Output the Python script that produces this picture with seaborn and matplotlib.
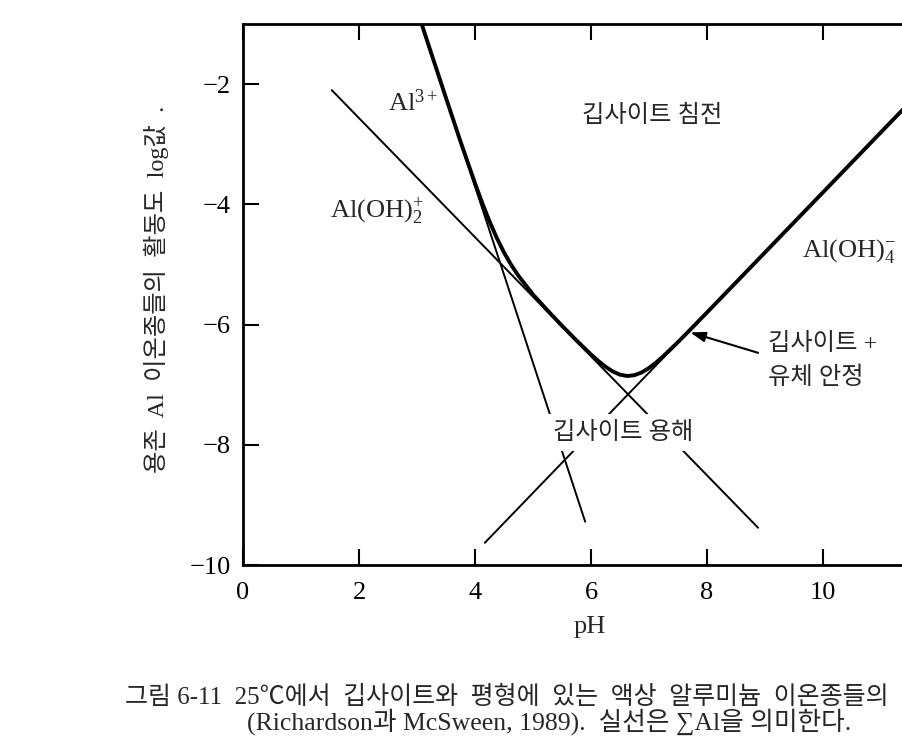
import matplotlib
matplotlib.use("Agg")
import matplotlib.pyplot as plt
import seaborn as sns
import pandas as pd

# ---- data ----
al3_ph = [3.08, 5.90]
al3_log = [-1.00, -9.28]

aloh2_ph = [1.53, 8.88]
aloh2_log = [-2.10, -9.38]

aloh4_ph = [4.17, 11.40]
aloh4_log = [-9.63, -2.40]

total_ph = [3.08, 3.25, 3.5, 3.75, 4.0, 4.125, 4.25, 4.375, 4.5, 4.625, 4.75, 5.0,
            5.25, 5.5, 5.75, 6.0, 6.125, 6.25, 6.375, 6.5, 6.625, 6.75, 6.875,
            7.0, 7.125, 7.25, 7.5, 7.75, 8.0, 9.0, 10.0, 11.4]
total_log = [-1.00, -1.50, -2.23, -2.955, -3.65, -3.978, -4.283, -4.558, -4.80,
             -5.01, -5.19, -5.50, -5.765, -6.02, -6.264, -6.498, -6.605, -6.701,
             -6.78, -6.834, -6.856, -6.842, -6.796, -6.723, -6.63, -6.524, -6.292,
             -6.047, -5.799, -4.80, -3.80, -2.40]

x_ticks = [0, 2, 4, 6, 8, 10]
y_ticks = [-2, -4, -6, -8, -10]

sns.set_style("ticks")
plt.rcParams['font.family'] = ['Liberation Serif', 'Noto Sans CJK KR', 'DejaVu Sans']
plt.rcParams['mathtext.fontset'] = 'custom'
plt.rcParams['mathtext.rm'] = 'Liberation Serif'
plt.rcParams['mathtext.it'] = 'Liberation Serif'
plt.rcParams['mathtext.bf'] = 'Liberation Serif'
plt.rcParams['axes.unicode_minus'] = True

fig = plt.figure(figsize=(9.02, 7.53), dpi=100)
L, B = 243 / 902, (753 - 565) / 753
ax = fig.add_axes([L, B, 1.0 - L, (565 - 24) / 753])

thin = dict(color='black', linewidth=1.4, zorder=2)
sns.lineplot(x=al3_ph, y=al3_log, ax=ax, **thin)
sns.lineplot(x=aloh2_ph, y=aloh2_log, ax=ax, **thin)
sns.lineplot(x=aloh4_ph, y=aloh4_log, ax=ax, **thin)
df_tot = pd.DataFrame({'pH': total_ph, 'logAl': total_log})
sns.lineplot(data=df_tot, x='pH', y='logAl', ax=ax, color='black', linewidth=2.8,
             zorder=3, sort=False)

ax.set_xlim(0, 659 / 58)
ax.set_ylim(-10, -1)
ax.set_xticks(x_ticks)
ax.set_yticks(y_ticks)
ax.set_xticklabels([str(v) for v in x_ticks])
ax.set_yticklabels([f"\u2212{abs(v)}" for v in y_ticks])
ax.tick_params(axis='both', direction='in', length=11.5, width=1.5, labelsize=19,
               colors='black')
ax.tick_params(axis='x', top=True, pad=12)
ax.tick_params(axis='y', pad=9)
for s in ['left', 'bottom', 'top']:
    ax.spines[s].set_linewidth(2.0)
    ax.spines[s].set_color('black')
ax.spines['right'].set_visible(False)
ax.set_xlabel('')
ax.set_ylabel('')

# labels
ax.text(2.50, -2.45, r'Al$^{3+}$', fontsize=19, va='baseline', ha='left')
ax.text(1.50, -4.22, r'Al(OH)$_{2}^{+}$', fontsize=19, va='baseline', ha='left')
ax.text(9.64, -4.87, r'Al(OH)$_{4}^{-}$', fontsize=19, va='baseline', ha='left')
ax.text(5.84, -2.53, '깁사이트 침전', fontsize=17.5, va='center', ha='left')
ax.text(9.05, -6.33, '깁사이트 +', fontsize=17.5, va='center', ha='left')
ax.text(9.05, -6.88, '유체 안정', fontsize=17.5, va='center', ha='left')
ax.text(5.34, -7.80, '깁사이트 용해', fontsize=17.5, va='center', ha='left', zorder=4,
        bbox=dict(boxstyle='square,pad=0.3', facecolor='white', edgecolor='none'))
ax.annotate('', xy=(7.71, -6.13), xytext=(8.88, -6.47),
            arrowprops=dict(arrowstyle='-|>,head_length=0.9,head_width=0.3',
                            color='black', linewidth=1.5, shrinkA=0, shrinkB=0))

fig.text(590 / 902, 1 - 627 / 753, 'pH', fontsize=19, ha='center', va='center')
fig.text(156 / 902, 1 - 289 / 753, '용존  Al  이온종들의  활동도  log값  .', fontsize=17.5,
         rotation=90, ha='center', va='center')

fig.text(125 / 902, 1 - 697 / 753,
         '그림 6-11  25℃에서  깁사이트와  평형에  있는  액상  알루미늄  이온종들의',
         fontsize=18, ha='left', va='center')
fig.text(247 / 902, 1 - 722 / 753,
         '(Richardson과 McSween, 1989).  실선은 ∑Al을 의미한다.',
         fontsize=18.5, ha='left', va='center')

fig.savefig('out.png', dpi=100, facecolor='white')
